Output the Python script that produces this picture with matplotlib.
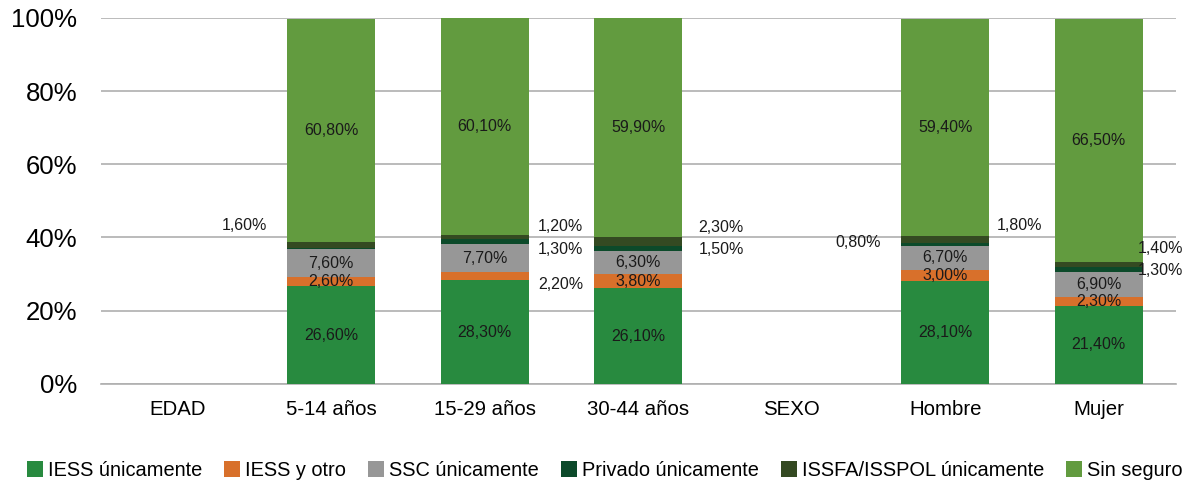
import matplotlib
matplotlib.use("Agg")
import matplotlib.pyplot as plt
import numpy as np

plt.rcParams['font.family'] = ['Liberation Sans', 'DejaVu Sans']

categories = ["EDAD", "5-14 años", "15-29 años", "30-44 años", "SEXO", "Hombre", "Mujer"]
series_names = ["IESS únicamente", "IESS y otro", "SSC únicamente", "Privado únicamente",
                "ISSFA/ISSPOL únicamente", "Sin seguro"]
iess = [0, 26.6, 28.3, 26.1, 0, 28.1, 21.4]
iess_otro = [0, 2.6, 2.2, 3.8, 0, 3.0, 2.3]
ssc = [0, 7.6, 7.7, 6.3, 0, 6.7, 6.9]
privado = [0, 0.4, 1.3, 1.5, 0, 0.8, 1.3]
issfa = [0, 1.6, 1.2, 2.3, 0, 1.8, 1.4]
sin_seguro = [0, 60.8, 60.1, 59.9, 0, 59.4, 66.5]

colors = ["#288A3F", "#D8702B", "#979797", "#0C4A2A", "#344A22", "#629B3F"]

# labels placed outside the bars: (series index, category index, dx px, dy px)
outside = [(4, 1, -87, 19), (4, 2, 76, 11), (3, 2, 76, -8), (1, 2, 76, -8),
           (4, 3, 83, 14), (3, 3, 83, -1), (3, 5, -87, 2), (4, 5, 74, 14),
           (4, 6, 62, 16), (3, 6, 62, -1)]
hidden = [(3, 1)]

data = [iess, iess_otro, ssc, privado, issfa, sin_seguro]

fig = plt.figure(figsize=(12.02, 4.84), dpi=100)
ax = fig.add_axes([0.084, 0.207, 0.894, 0.756])

x = np.arange(len(categories))
bottom = np.zeros(len(categories))
width = 0.573
lab_fs = 11.5
out_map = {(s, c): (dx, dy) for s, c, dx, dy in outside}
for si, (name, vals, col) in enumerate(zip(series_names, data, colors)):
    vals = np.array(vals, dtype=float)
    ax.bar(x, vals, width, bottom=bottom, color=col, label=name, zorder=3)
    for ci, v in enumerate(vals):
        if v <= 0 or (si, ci) in hidden:
            continue
        top = min(bottom[ci] + v, 100)
        mid = (bottom[ci] + top) / 2
        lab = f"{v:.2f}%".replace(".", ",")
        if (si, ci) in out_map:
            dx, dy = out_map[(si, ci)]
            ax.annotate(lab, (x[ci], mid), xytext=(dx, dy), textcoords='offset pixels',
                        ha='center', va='center', fontsize=lab_fs, color='#1a1a1a', zorder=5)
        else:
            ax.text(x[ci], mid, lab, ha='center', va='center', fontsize=lab_fs,
                    color='#1a1a1a', zorder=5)
    bottom += vals

ax.set_xlim(-0.5, len(categories) - 0.5)
ax.set_ylim(0, 100)
ax.set_yticks(np.arange(0, 101, 20))
ax.set_yticklabels([f"{t}%" for t in range(0, 101, 20)], fontsize=18.5)
ax.set_xticks(x)
ax.set_xticklabels(categories, fontsize=14.7)
ax.tick_params(axis='both', length=0)
ax.tick_params(axis='y', pad=17)
ax.tick_params(axis='x', pad=12)
ax.yaxis.grid(True, color='#AFAFAF', linewidth=1.2, zorder=0)
ax.set_axisbelow(True)
for s in ['top', 'right', 'left']:
    ax.spines[s].set_visible(False)
ax.spines['bottom'].set_color('#AFAFAF')
ax.spines['bottom'].set_linewidth(1.2)

handles, labels = ax.get_legend_handles_labels()
fig.legend(handles, labels, loc='center', bbox_to_anchor=(0.503, 0.028), ncol=6,
           frameon=False, fontsize=14.4, handlelength=0.8, handleheight=0.8,
           handletextpad=0.25, columnspacing=1.1, borderaxespad=0, borderpad=0)

fig.savefig("out.png", dpi=100)
